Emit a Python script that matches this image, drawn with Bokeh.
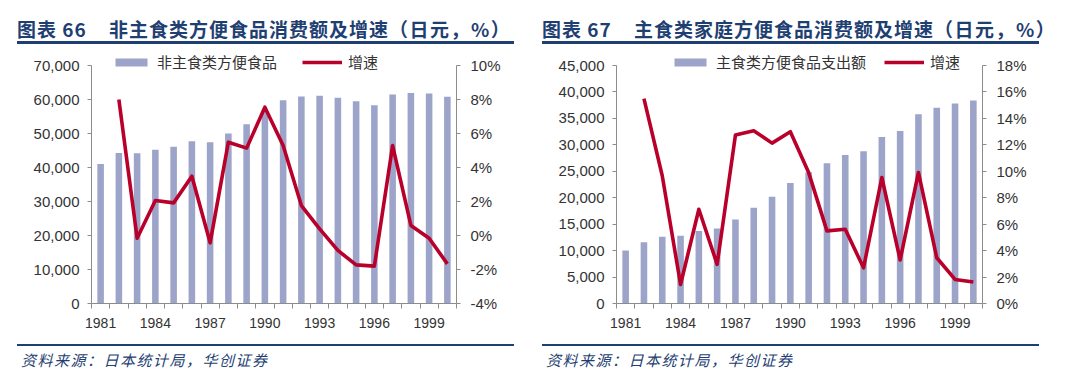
from bokeh.plotting import figure
from bokeh.models import (Range1d, LinearAxis, FixedTicker, NumeralTickFormatter,
                          PrintfTickFormatter, Legend, LegendItem, Div, Spacer)
from bokeh.layouts import row, column
from bokeh.embed import file_html
from bokeh.resources import INLINE

# ---------------- data ----------------
years = list(range(1981, 2001))
growth_years = years[1:]
x_tick_labels = ["1981", "1984", "1987", "1990", "1993", "1996", "1999"]

# chart 66: non-staple convenience food (yen) and growth (%)
snack_sales = [41000, 44300, 44200, 45200, 46100, 47700, 47400, 50000, 52700, 56700,
               59800, 60900, 61100, 60500, 59500, 58300, 61500, 61900, 61800, 60800]
snack_growth = [8.0, -0.16, 2.06, 1.92, 3.49, -0.43, 5.49, 5.14, 7.55, 5.29,
                1.76, 0.39, -0.88, -1.73, -1.80, 5.29, 0.59, -0.16, -1.67]
snack_yticks = [0, 10000, 20000, 30000, 40000, 50000, 60000, 70000]
snack_pticks = [-4, -2, 0, 2, 4, 6, 8, 10]

# chart 67: staple convenience food (yen) and growth (%)
staple_sales = [10000, 11600, 12600, 12800, 13700, 14200, 15900, 18100, 20200, 22800,
                24800, 26500, 28100, 28800, 31500, 32600, 35800, 37000, 37800, 38400]
staple_growth = [15.5, 9.66, 1.44, 7.13, 2.96, 12.74, 13.07, 12.13, 12.99, 9.9,
                 5.49, 5.61, 2.7, 9.53, 3.29, 9.91, 3.46, 1.82, 1.62]
staple_yticks = [0, 5000, 10000, 15000, 20000, 25000, 30000, 35000, 40000, 45000]
staple_pticks = [0, 2, 4, 6, 8, 10, 12, 14, 16, 18]

title_66 = ("图表 66", "非主食类方便食品消费额及增速", "（日元，%）")
title_67 = ("图表 67", "主食类家庭方便食品消费额及增速", "（日元，%）")
legend_66 = ("非主食类方便食品", "增速")
legend_67 = ("主食类方便食品支出额", "增速")
source_text = "资料来源：日本统计局，华创证券"

# ---------------- style ----------------
BAR = "#9DA4C9"
LINE = "#B8002B"
NAVY = "#1F3F73"
AXIS = "#8C8C8C"
TXT = "#333333"
NUM_FONT = "Liberation Sans"
CJK_FONT = "Noto Sans CJK SC"

FRAME_USED = 238.0
FRAME_H = 258.0
EXT = FRAME_H / FRAME_USED


def make_chart(sales, growth, yticks, pticks, labels, legend_x, legend_spacing, border_right):
    ymin, ymax = yticks[0], yticks[-1]
    pmin, pmax = pticks[0], pticks[-1]
    p = figure(width=497, height=300, output_backend="svg", toolbar_location=None,
               x_range=Range1d(years[0] - 0.5, years[-1] + 0.5),
               y_range=Range1d(ymin, ymin + (ymax - ymin) * EXT),
               x_axis_type=None, y_axis_type=None,
               min_border_left=74, min_border_right=border_right,
               min_border_top=1, min_border_bottom=41)
    p.extra_y_ranges = {"pct": Range1d(pmin, pmin + (pmax - pmin) * EXT)}
    p.outline_line_color = None
    p.background_fill_color = "white"
    p.border_fill_color = "white"

    bars = p.vbar(x=years, top=sales, width=0.36, fill_color=BAR, line_color=None)
    line = p.line(x=growth_years, y=growth, y_range_name="pct", line_color=LINE,
                  line_width=3.6, line_join="round")

    # bottom axis: labels at bar centres, ticks between bars
    xaxis = LinearAxis(
        ticker=FixedTicker(ticks=[int(s) for s in x_tick_labels],
                           minor_ticks=[y - 0.5 for y in years] + [years[-1] + 0.5]),
        major_label_overrides={int(s): s for s in x_tick_labels},
        axis_line_color=AXIS, major_tick_line_color=None,
        major_tick_in=0, major_tick_out=0,
        minor_tick_line_color=AXIS, minor_tick_in=0, minor_tick_out=5,
        major_label_standoff=9,
        major_label_text_font=NUM_FONT, major_label_text_font_size="14px",
        major_label_text_color=TXT)
    p.add_layout(xaxis, "below")

    yaxis = LinearAxis(
        ticker=FixedTicker(ticks=yticks, minor_ticks=[]), bounds=(ymin, ymax),
        formatter=NumeralTickFormatter(format="0,0"),
        axis_line_color=AXIS, major_tick_line_color=AXIS,
        major_tick_in=0, major_tick_out=4, minor_tick_line_color=None,
        major_label_standoff=8,
        major_label_text_font=NUM_FONT, major_label_text_font_size="15px",
        major_label_text_color=TXT)
    p.add_layout(yaxis, "left")

    paxis = LinearAxis(
        y_range_name="pct",
        ticker=FixedTicker(ticks=pticks, minor_ticks=[]), bounds=(pmin, pmax),
        formatter=PrintfTickFormatter(format="%d%%"),
        axis_line_color=AXIS, major_tick_line_color=AXIS,
        major_tick_in=0, major_tick_out=4, minor_tick_line_color=None,
        major_label_standoff=10,
        major_label_text_font=NUM_FONT, major_label_text_font_size="15px",
        major_label_text_color=TXT)
    p.add_layout(paxis, "right")

    legend = Legend(
        items=[LegendItem(label=labels[0], renderers=[bars]),
               LegendItem(label=labels[1], renderers=[line])],
        orientation="horizontal", location=(legend_x, 231),
        glyph_width=40, glyph_height=10, label_height=20,
        label_standoff=6, spacing=legend_spacing, padding=0, margin=0,
        border_line_color=None, background_fill_alpha=0,
        label_text_font=CJK_FONT, label_text_font_size="15px",
        label_text_color=TXT)
    p.add_layout(legend)
    return p


def title_div(parts):
    num, text, paren = parts
    html = (f'<div style="box-sizing:border-box;width:497px;height:37px;padding-top:11px;'
            f'border-bottom:3px solid {NAVY};color:{NAVY};font-family:\'{CJK_FONT}\';'
            f'font-weight:bold;font-size:19px;line-height:22px;white-space:nowrap;">'
            f'<span style="display:inline-block;width:92px;letter-spacing:1px;">{num}</span>'
            f'<span style="letter-spacing:1px;">{text}</span>'
            f'<span style="letter-spacing:1.5px;">{paren}</span></div>')
    return Div(text=html, width=497, height=37, margin=0)


def source_div():
    html = (f'<div style="box-sizing:border-box;width:497px;height:24px;'
            f'border-top:2px solid {NAVY};padding-top:5px;padding-left:4px;color:{NAVY};'
            f'font-family:\'{CJK_FONT}\';font-style:italic;font-size:15px;line-height:18px;'
            f'letter-spacing:1.5px;white-space:nowrap;">{source_text}</div>')
    return Div(text=html, width=497, height=24, margin=0)


p1 = make_chart(snack_sales, snack_growth, snack_yticks, snack_pticks, legend_66,
                legend_x=20, legend_spacing=25, border_right=58)
p2 = make_chart(staple_sales, staple_growth, staple_yticks, staple_pticks, legend_67,
                legend_x=54, legend_spacing=18, border_right=57)

left = column(title_div(title_66), p1, source_div(), spacing=0)
right = column(title_div(title_67), p2, source_div(), spacing=0)
charts = row(Spacer(width=17, height=10), left, Spacer(width=28, height=10), right, spacing=0)
page = column(Spacer(width=10, height=7), charts, spacing=0)

open("out.html", "w").write(file_html(page, INLINE))
